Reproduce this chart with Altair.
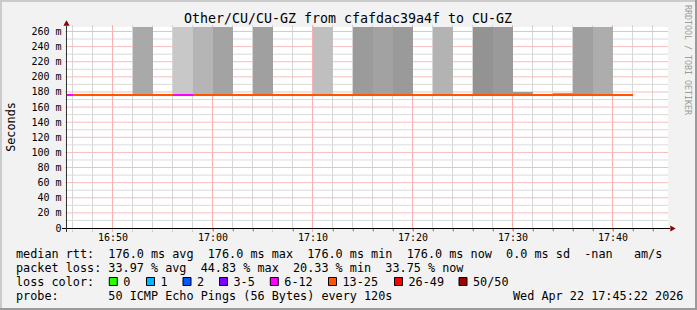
import altair as alt
import pandas as pd

MONO = "DejaVu Sans Mono"

# ---------------- data ----------------
title_text = "Other/CU/CU-GZ from cfafdac39a4f to CU-GZ"
y_title = "Seconds"
watermark = "RRDTOOL / TOBI OETIKER"

# median rtt per 120 s step (step start time), and loss class of the step
step_start = ["16:44:03", "16:46:03", "16:48:03", "16:50:03", "16:52:03", "16:54:03",
              "16:56:03", "16:58:03", "17:00:03", "17:02:03", "17:04:03", "17:06:03",
              "17:08:03", "17:10:03", "17:12:03", "17:14:03", "17:16:03", "17:18:03",
              "17:20:03", "17:22:03", "17:24:03", "17:26:03", "17:28:03", "17:30:03",
              "17:32:03", "17:34:03", "17:36:03", "17:38:03", "17:40:03"]
step_median = [176.0, 176.0, 176.0, 176.0, 176.0, 176.0, 176.0, 176.0, 176.0, 176.0,
               176.0, 176.0, 176.0, 176.0, 176.0, 176.0, 176.0, 176.0, 176.0, 176.0,
               176.0, 176.0, 176.0, 176.0, 176.0, 176.0, 176.0, 176.0, 176.0]
step_loss = ["6-12", "13-25", "13-25", "13-25", "13-25", "13-25",
             "6-12", "13-25", "13-25", "13-25", "13-25", "13-25",
             "13-25", "13-25", "13-25", "13-25", "13-25", "13-25",
             "13-25", "13-25", "13-25", "13-25", "13-25", "13-25",
             "13-25", "13-25", "13-25", "13-25", "13-25"]
step_seconds = 120

# smoke (spread of the pings) per step
smoke_start = ["16:52:03", "16:56:03", "16:58:03", "17:00:03", "17:04:03", "17:10:03",
               "17:14:03", "17:16:03", "17:18:03", "17:22:03", "17:26:03", "17:28:03",
               "17:30:03", "17:34:03", "17:36:03", "17:38:03"]
smoke_low = [176.0, 176.0, 176.0, 176.0, 176.0, 176.0, 176.0, 176.0,
             176.0, 176.0, 176.0, 176.0, 176.0, 176.0, 176.0, 176.0]
smoke_high = [300.0, 300.0, 300.0, 300.0, 300.0, 300.0, 300.0, 300.0,
              300.0, 300.0, 300.0, 300.0, 180.0, 178.5, 300.0, 300.0]
smoke_gray = [169, 200, 181, 163, 160, 191, 155, 162, 154, 179, 147, 154, 153, 153, 160, 173]

x_major = [50, 60, 70, 80, 90, 100]          # minutes after 16:00
y_major = list(range(0, 261, 20))            # ms

loss_labels = ["0", "1", "2", "3-5", "6-12", "13-25", "26-49", "50/50"]
loss_colors = ["#26ff00", "#00b8ff", "#0059ff", "#7e00ff", "#ff00ff", "#ff5500", "#ff0000", "#a10000"]

rtt_stats = [176.0, 176.0, 176.0, 176.0]   # avg max min now
rtt_sd = 0.0
rtt_ams = "-nan"
loss_stats = [33.97, 44.83, 20.33, 33.75]  # avg max min now
probe_text = "50 ICMP Echo Pings (56 Bytes) every 120s"
stamp = "Wed Apr 22 17:45:22 2026"


def minutes(s):
    h, m, sec = map(int, s.split(":"))
    return (h - 16) * 60 + m + sec / 60.0


def nb(s):
    return s.replace(" ", "\u00a0")


steps = pd.DataFrame({"t0": [minutes(s) for s in step_start],
                      "median": step_median, "loss": step_loss})
steps["t1"] = steps["t0"] + step_seconds / 60.0

smoke = pd.DataFrame({"t0": [minutes(s) for s in smoke_start],
                      "lo": smoke_low, "hi": smoke_high,
                      "shade": ["#%02x%02x%02x" % (g, g, g) for g in smoke_gray]})
smoke["t1"] = smoke["t0"] + step_seconds / 60.0

x_all = list(range(46, 105, 2))
vminor = pd.DataFrame({"t": [v for v in x_all if v not in x_major]})
vmajor = pd.DataFrame({"t": x_major})
hminor = pd.DataFrame({"v": list(range(10, 260, 20))})
hmajor = pd.DataFrame({"v": [v for v in y_major if v > 0]})
one = pd.DataFrame({"k": [0]})

# ---------------- layout ----------------
W, H = 601, 201
xs = alt.Scale(domain=[45.45, 105.55], nice=False, zero=False)
ys = alt.Scale(domain=[0, 265.95], nice=False, zero=False)

VMINOR = "#d6d6d6"
HMINOR = "#dadada"
VMAJOR = "#f8b0b0"
HMAJOR = "#f8bcbc"

x_label_expr = ("datum.value % 10 == 0 ? (16 + floor(datum.value / 60)) + ':' + "
                "(datum.value % 60 == 0 ? '00' : '' + (datum.value % 60)) : ''")
x_axis = alt.Axis(values=x_all, labelExpr=x_label_expr, domain=False, grid=False,
                  ticks=True, tickSize=3, tickColor="#999999", tickWidth=1,
                  labelFont=MONO, labelFontSize=10, labelColor="black",
                  labelPadding=1.5, labelBaseline="top", labelFlush=False,
                  labelOverlap=False, title=None)
y_axis = alt.Axis(values=y_major,
                  labelExpr="datum.value == 0 ? '0\u00a0\u00a0' : datum.value + ' m'",
                  domain=False, grid=False, ticks=False, tickSize=0,
                  labelFont=MONO, labelFontSize=10, labelColor="black",
                  labelPadding=6, labelOverlap=False, title=None)

layers = []

layers.append(alt.Chart(vminor).mark_rule(stroke=VMINOR, strokeWidth=1).encode(
    x=alt.X("t:Q", scale=xs, axis=x_axis), y=alt.value(-2), y2=alt.value(H + 3)))
layers.append(alt.Chart(hminor).mark_rule(stroke=HMINOR, strokeWidth=1).encode(
    y=alt.Y("v:Q", scale=ys, axis=y_axis), x=alt.value(-2), x2=alt.value(W)))
layers.append(alt.Chart(vmajor).mark_rule(stroke=VMAJOR, strokeWidth=1).encode(
    x=alt.X("t:Q", scale=xs, axis=x_axis), y=alt.value(-2), y2=alt.value(H + 3)))
layers.append(alt.Chart(hmajor).mark_rule(stroke=HMAJOR, strokeWidth=1).encode(
    y=alt.Y("v:Q", scale=ys, axis=y_axis), x=alt.value(-2), x2=alt.value(W)))

layers.append(alt.Chart(smoke).mark_rect(clip=True).encode(
    x=alt.X("t0:Q", scale=xs, axis=x_axis), x2="t1:Q",
    y=alt.Y("lo:Q", scale=ys, axis=y_axis), y2="hi:Q",
    color=alt.Color("shade:N", scale=None)))

layers.append(alt.Chart(steps).mark_rule(strokeWidth=2, clip=True).encode(
    x=alt.X("t0:Q", scale=xs, axis=x_axis), x2="t1:Q",
    y=alt.Y("median:Q", scale=ys, axis=y_axis),
    color=alt.Color("loss:N", scale=alt.Scale(domain=loss_labels, range=loss_colors), legend=None)))

# axis lines and arrows
layers.append(alt.Chart(one).mark_rule(color="black", strokeWidth=1).encode(
    x=alt.value(-5), x2=alt.value(W + 2), y=alt.value(H + 0.5)))
layers.append(alt.Chart(one).mark_rule(color="#333333", strokeWidth=1).encode(
    x=alt.value(-0.5), y=alt.value(-1), y2=alt.value(H + 4)))
layers.append(alt.Chart(one).mark_point(shape="triangle-up", filled=True, size=38,
                                        color="#8b0000", opacity=1).encode(
    x=alt.value(-0.5), y=alt.value(-4)))
layers.append(alt.Chart(one).mark_point(shape="triangle-right", filled=True, size=38,
                                        color="#8b0000", opacity=1).encode(
    x=alt.value(W + 5), y=alt.value(H + 0.5)))


def text(s, x, y, size=11.8, color="black", align="left", baseline="alphabetic", angle=0):
    return alt.Chart(one).mark_text(text=s, align=align, baseline=baseline, font=MONO,
                                    fontSize=size, color=color, angle=angle).encode(
        x=alt.value(x), y=alt.value(y))


layers.append(text(title_text, 281, -3.7, size=13.3, align="center"))
layers.append(text(y_title, -52, 100, size=11.8, align="center", angle=270))
layers.append(text(watermark, 617.5, -22, size=8.3, color="#9c9c9c", angle=90))

line1 = ("median rtt:  " + "%.1f ms avg  " % rtt_stats[0] + "%.1f ms max  " % rtt_stats[1]
         + "%.1f ms min  " % rtt_stats[2] + "%.1f ms now  " % rtt_stats[3]
         + "%.1f ms sd  " % rtt_sd + rtt_ams + "   am/s")
line2 = ("packet loss: " + "%.2f %% avg  " % loss_stats[0] + "%.2f %% max  " % loss_stats[1]
         + "%.2f %% min  " % loss_stats[2] + "%.2f %% now" % loss_stats[3])
line4 = "probe:       " + probe_text

layers.append(text(nb(line1), -51, 231))
layers.append(text(nb(line2), -51, 245))
layers.append(text(nb("loss color:"), -51, 259))
layers.append(text(nb(line4), -51, 273))
layers.append(text(nb(stamp), 446, 273))

label_px = [123.3, 160.5, 197.0, 233.5, 284.3, 342.5, 408.5, 473.0]
for lab, col, lx in zip(loss_labels, loss_colors, label_px):
    bx = lx - 14.5 - 67
    layers.append(alt.Chart(one).mark_rect(fill=col, stroke="black", strokeWidth=1).encode(
        x=alt.value(bx + 0.5), x2=alt.value(bx + 8.5), y=alt.value(250.5), y2=alt.value(258.5)))
    layers.append(text(lab, lx - 67, 259))

# outer frame
FR_L, FR_T, FR_R, FR_B = -67, -27, 630, 283
for (xa, xb, ya, yb, c) in [(FR_L, FR_R, FR_T, FR_T + 2, "#cbcbcb"),
                            (FR_L, FR_L + 2, FR_T, FR_B, "#cbcbcb"),
                            (FR_R - 2, FR_R, FR_T, FR_B, "#9a9a9a"),
                            (FR_L, FR_R, FR_B - 2, FR_B, "#9a9a9a")]:
    layers.append(alt.Chart(one).mark_rect(color=c).encode(
        x=alt.value(xa), x2=alt.value(xb), y=alt.value(ya), y2=alt.value(yb)))

chart = alt.layer(*layers).properties(
    width=W, height=H,
    padding={"left": 67, "top": 27, "right": 29, "bottom": 82},
    autosize=alt.AutoSizeParams(type="none"),
    background="#f2f2f2",
).configure_view(stroke=None, fill="white")

chart.save("out.html", embed_options={"renderer": "svg", "actions": False})
